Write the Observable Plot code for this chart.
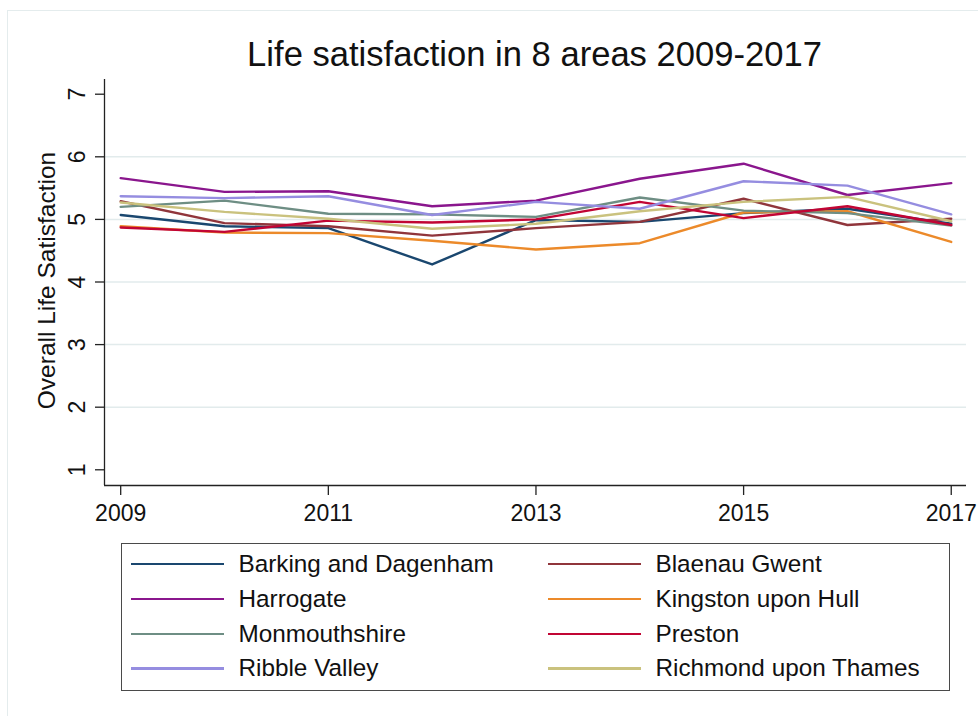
<!DOCTYPE html>
<html>
<head>
<meta charset="utf-8">
<script src="https://cdn.jsdelivr.net/npm/d3@7"></script>
<script src="https://cdn.jsdelivr.net/npm/@observablehq/plot@0.6"></script>
<style>
  html, body { margin: 0; padding: 0; background: #fff; }
  body { width: 978px; height: 716px; position: relative; overflow: hidden;
         font-family: "Liberation Sans", Arial, Helvetica, sans-serif; color: #111; }
  #frame { position: absolute; left: 7px; top: 10px; width: 990px; height: 720px;
           border-left: 1.5px solid #e4eced; border-top: 1.5px solid #e4eced; }
  #title { position: absolute; left: 0; width: 1069px; top: 37px; text-align: center;
           font-size: 34.6px; line-height: 34px; white-space: nowrap; }
  #chart { position: absolute; left: 0; top: 70px; }
  #legend { position: absolute; left: 121px; top: 543px; width: 827px; height: 146px;
            border: 1.5px solid #4a4a4a; }
  .row { position: absolute; height: 24px; line-height: 24px; font-size: 24.3px; white-space: nowrap; }
  .sw { position: absolute; top: 11px; height: 2.4px; width: 93px; }
  .lab { position: absolute; left: 108px; top: 0; }
</style>
</head>
<body>
<div id="frame"></div>
<div id="title"></div>
<div id="chart"></div>
<div id="legend"></div>
<script>
const titleText = "Life satisfaction in 8 areas 2009-2017";
const yLabel = "Overall Life Satisfaction";
const years = [2009, 2010, 2011, 2012, 2013, 2014, 2015, 2016, 2017];
const xTicks = [2009, 2011, 2013, 2015, 2017];
const yTicks = [1, 2, 3, 4, 5, 6, 7];
const gridTicks = [2, 3, 4, 5, 6];
const areas = ["Barking and Dagenham", "Blaenau Gwent", "Harrogate", "Kingston upon Hull",
               "Monmouthshire", "Preston", "Ribble Valley", "Richmond upon Thames"];
const colors = ["#1a476f", "#90353b", "#8a168d", "#ec8a2a", "#6e8e84", "#c10534", "#958de0", "#cac27e"];

const barking   = [5.07, 4.89, 4.86, 4.28, 4.99, 4.96, 5.10, 5.17, 4.93];
const blaenau   = [5.29, 4.94, 4.89, 4.74, 4.86, 4.96, 5.33, 4.91, 5.01];
const harrogate = [5.66, 5.44, 5.45, 5.21, 5.30, 5.65, 5.89, 5.39, 5.58];
const kingston  = [4.89, 4.79, 4.78, 4.66, 4.52, 4.62, 5.11, 5.13, 4.64];
const monmouth  = [5.20, 5.30, 5.09, 5.08, 5.04, 5.35, 5.14, 5.10, 4.90];
const preston   = [4.87, 4.80, 4.98, 4.95, 5.00, 5.28, 5.02, 5.21, 4.91];
const ribble    = [5.37, 5.34, 5.37, 5.07, 5.28, 5.17, 5.61, 5.54, 5.08];
const richmond  = [5.27, 5.12, 5.01, 4.85, 4.93, 5.13, 5.28, 5.36, 4.97];

const series = [barking, blaenau, harrogate, kingston, monmouth, preston, ribble, richmond];
const data = [];
series.forEach((vals, i) => vals.forEach((v, j) => data.push({area: areas[i], year: years[j], value: v})));

document.getElementById("title").textContent = titleText;

const xDomain = [2008.844, 2017.147];
const yDomain = [0.749, 7.235];
const font = "'Liberation Sans', Arial, Helvetica, sans-serif";

const chart = Plot.plot({
  width: 978,
  height: 460,
  marginLeft: 104,
  marginRight: 12,
  marginTop: 9,
  marginBottom: 45,
  x: {domain: xDomain},
  y: {domain: yDomain},
  color: {domain: areas, range: colors},
  style: {fontFamily: font, fontSize: "23px", color: "#111", background: "transparent", overflow: "visible"},
  marks: [
    Plot.gridY(gridTicks, {stroke: "#e2ebec", strokeOpacity: 1, strokeWidth: 1.5}),
    Plot.lineY(data, {x: "year", y: "value", z: "area", stroke: "area", strokeWidth: 2.4}),
    Plot.ruleX([xDomain[0]], {stroke: "#222", strokeWidth: 1.3}),
    Plot.ruleY([yDomain[0]], {stroke: "#222", strokeWidth: 1.3}),
    Plot.axisY(yTicks, {tickSize: 9, tickFormat: () => null, label: null, stroke: "#222", strokeWidth: 1.3}),
    Plot.text(yTicks, {frameAnchor: "left", y: d => d, text: d => String(d), rotate: -90,
                       dx: -27, textAnchor: "middle", lineAnchor: "middle", fontSize: 23, fill: "#111"}),
    Plot.axisX(xTicks, {tickSize: 10, tickPadding: 9, tickFormat: d => String(d), label: null,
                        fontSize: 23, stroke: "#222", strokeWidth: 1.3}),
    Plot.text([yLabel], {frameAnchor: "left", text: d => d, rotate: -90, dx: -57, dy: -2,
                         textAnchor: "middle", lineAnchor: "middle", fontSize: 24.5, fill: "#111"})
  ]
});
document.getElementById("chart").appendChild(chart);

// legend (two columns, four rows), built from the same arrays
const legend = document.getElementById("legend");
const rowCenters = [564.3, 599, 634, 668.7];
areas.forEach((name, i) => {
  const col = i % 2, r = Math.floor(i / 2);
  const row = document.createElement("div");
  row.className = "row";
  row.style.left = (col === 0 ? 131 - 122.5 : 548 - 122.5) + "px";
  row.style.top = (rowCenters[r] - 544.5 - 12) + "px";
  const sw = document.createElement("div");
  sw.className = "sw";
  sw.style.left = "0px";
  sw.style.background = colors[i];
  const lab = document.createElement("div");
  lab.className = "lab";
  lab.textContent = name;
  row.appendChild(sw);
  row.appendChild(lab);
  legend.appendChild(row);
});
</script>
</body>
</html>
